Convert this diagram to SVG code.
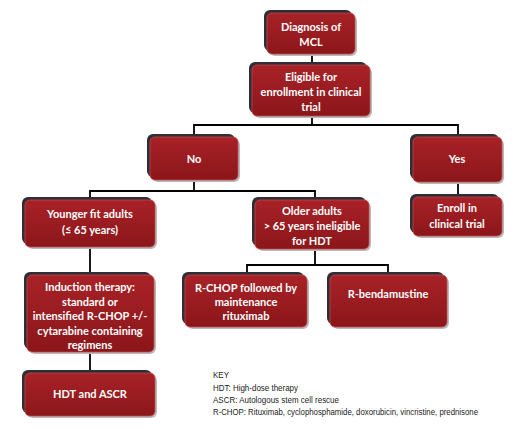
<svg xmlns="http://www.w3.org/2000/svg" width="520" height="429" viewBox="0 0 520 429">
<defs>
<linearGradient id="red" x1="0" y1="0" x2="0" y2="1">
<stop offset="0" stop-color="#a82227"/>
<stop offset="1" stop-color="#8b161a"/>
</linearGradient>
<style>
.sh{fill:#2e2e36}
.lt{fill:#b9b9b9}
.bx{fill:url(#red);stroke:#c2474a;stroke-width:0.8}
.t{font-family:Lato,"Open Sans","Liberation Sans",sans-serif;font-weight:bold;font-size:11px;fill:#ffffff;text-anchor:middle}
.k{font-family:"Liberation Sans",Arial,sans-serif;font-size:9px;fill:#222222}
.c{fill:none;stroke:#000000;stroke-width:1.8}
</style>
</defs>
<rect width="520" height="429" fill="#ffffff"/>
<g id="connectors">
<path class="c" d="M312,54V63"/>
<path class="c" d="M312,116V125M194,125H458M194,124V135M458,124V135"/>
<path class="c" d="M194,180V191M90,191H315M90,190V198M315,190V198"/>
<path class="c" d="M458,182V195"/>
<path class="c" d="M90,247V273"/>
<path class="c" d="M315,249V265M247,265H388M247,264V273M388,264V273"/>
<path class="c" d="M90,352V371"/>
</g>
<g id="diagnosis">
<rect class="lt" x="269" y="15" width="88" height="41" rx="6"/>
<rect class="sh" x="264" y="10" width="88" height="41" rx="6"/>
<rect class="bx" x="267" y="13" width="88" height="41" rx="5"/>
<text class="t" x="311" y="31">Diagnosis of</text>
<text class="t" x="311" y="46">MCL</text>
</g>
<g id="eligible">
<rect class="lt" x="254" y="67" width="118" height="51" rx="6"/>
<rect class="sh" x="249" y="62" width="118" height="51" rx="6"/>
<rect class="bx" x="252" y="65" width="118" height="51" rx="5"/>
<text class="t" x="311" y="81">Eligible for</text>
<text class="t" x="311" y="96">enrollment in clinical</text>
<text class="t" x="311" y="111">trial</text>
</g>
<g id="no">
<rect class="lt" x="152" y="139" width="88" height="43" rx="6"/>
<rect class="sh" x="147" y="134" width="88" height="43" rx="6"/>
<rect class="bx" x="150" y="137" width="88" height="43" rx="5"/>
<text class="t" x="194" y="163">No</text>
</g>
<g id="yes">
<rect class="lt" x="415" y="139" width="89" height="45" rx="6"/>
<rect class="sh" x="410" y="134" width="89" height="45" rx="6"/>
<rect class="bx" x="413" y="137" width="89" height="45" rx="5"/>
<text class="t" x="457" y="163">Yes</text>
</g>
<g id="enroll">
<rect class="lt" x="415" y="199" width="89" height="39" rx="6"/>
<rect class="sh" x="410" y="194" width="89" height="39" rx="6"/>
<rect class="bx" x="413" y="197" width="89" height="39" rx="5"/>
<text class="t" x="457" y="212">Enroll in</text>
<text class="t" x="457" y="228">clinical trial</text>
</g>
<g id="younger">
<rect class="lt" x="27" y="202" width="130" height="47" rx="6"/>
<rect class="sh" x="22" y="197" width="130" height="47" rx="6"/>
<rect class="bx" x="25" y="200" width="130" height="47" rx="5"/>
<text class="t" x="90" y="218">Younger fit adults</text>
<text class="t" x="90" y="234">(≤ 65 years)</text>
</g>
<g id="older">
<rect class="lt" x="257" y="202" width="114" height="49" rx="6"/>
<rect class="sh" x="252" y="197" width="114" height="49" rx="6"/>
<rect class="bx" x="255" y="200" width="114" height="49" rx="5"/>
<text class="t" x="312" y="215">Older adults</text>
<text class="t" x="312" y="230">&gt; 65 years ineligible</text>
<text class="t" x="312" y="245">for HDT</text>
</g>
<g id="induction">
<rect class="lt" x="29" y="277" width="127" height="77" rx="6"/>
<rect class="sh" x="24" y="272" width="127" height="77" rx="6"/>
<rect class="bx" x="27" y="275" width="127" height="77" rx="5"/>
<text class="t" x="90" y="291">Induction therapy:</text>
<text class="t" x="90" y="305.5">standard or</text>
<text class="t" x="90" y="320">intensified R-CHOP +/-</text>
<text class="t" x="90" y="334.5">cytarabine containing</text>
<text class="t" x="90" y="349">regimens</text>
</g>
<g id="rchop">
<rect class="lt" x="187" y="277" width="122" height="52" rx="6"/>
<rect class="sh" x="182" y="272" width="122" height="52" rx="6"/>
<rect class="bx" x="185" y="275" width="122" height="52" rx="5"/>
<text class="t" x="246" y="292">R-CHOP followed by</text>
<text class="t" x="246" y="306">maintenance</text>
<text class="t" x="246" y="320">rituximab</text>
</g>
<g id="rbendamustine">
<rect class="lt" x="332" y="277" width="117" height="52" rx="6"/>
<rect class="sh" x="327" y="272" width="117" height="52" rx="6"/>
<rect class="bx" x="330" y="275" width="117" height="52" rx="5"/>
<text class="t" x="388" y="298">R-bendamustine</text>
</g>
<g id="hdt">
<rect class="lt" x="27" y="375" width="130" height="43" rx="6"/>
<rect class="sh" x="22" y="370" width="130" height="43" rx="6"/>
<rect class="bx" x="25" y="373" width="130" height="43" rx="5"/>
<text class="t" x="90" y="398">HDT and ASCR</text>
</g>
<g id="key">
<text class="k" x="213" y="378" textLength="16" lengthAdjust="spacingAndGlyphs">KEY</text>
<text class="k" x="213" y="391" textLength="85" lengthAdjust="spacingAndGlyphs">HDT: High-dose therapy</text>
<text class="k" x="213" y="403" textLength="126" lengthAdjust="spacingAndGlyphs">ASCR: Autologous stem cell rescue</text>
<text class="k" x="213" y="415" textLength="265" lengthAdjust="spacingAndGlyphs">R-CHOP: Rituximab, cyclophosphamide, doxorubicin, vincristine, prednisone</text>
</g>
</svg>
